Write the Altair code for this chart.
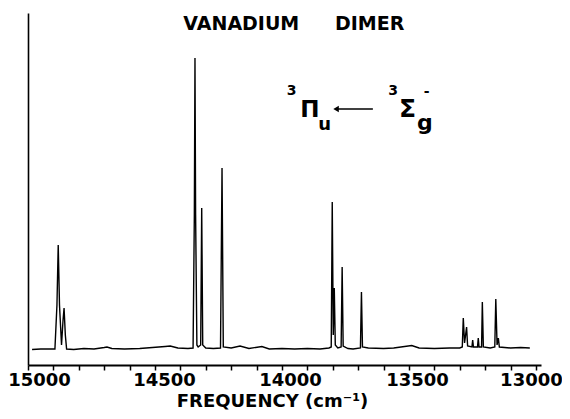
import altair as alt
import pandas as pd

# ---- spectrum (frequency in cm^-1, intensity in arbitrary units) ----
FREQ = [14984, 14950, 14920, 14900, 14894, 14886, 14881, 14876, 14868, 14862, 14858, 14853, 14848,
        14820, 14780, 14740, 14700, 14689, 14670, 14620, 14560, 14460, 14440, 14410, 14370,
        14350, 14345, 14342.5, 14340, 14335, 14330, 14320, 14316, 14312, 14300, 14270,
        14242, 14236, 14231, 14200, 14165, 14130, 14079, 14050, 14000, 13950, 13900, 13850, 13815,
        13806, 13802, 13798, 13794, 13790, 13780, 13767, 13763, 13759, 13740, 13720,
        13691, 13687, 13683, 13660, 13600, 13560, 13489, 13460, 13400, 13340, 13300,
        13290, 13286, 13281, 13273, 13269, 13252, 13249, 13246, 13230, 13227, 13224,
        13214, 13211, 13207, 13180, 13162, 13158, 13153, 13148, 13144, 13100, 13060, 13024]
INTENSITY = [15.5, 16, 16, 16, 16, 60, 120, 60, 20, 45, 57, 30, 16,
             15.5, 16.5, 16, 17.5, 18, 16.5, 16, 16.5, 18.5, 19, 17, 16.5,
             17, 150, 307, 150, 20, 18, 20, 157, 20, 17, 16.5,
             17, 197, 18, 17, 19, 16.5, 18.5, 16, 16.5, 16, 16.5, 16, 17,
             18, 163, 30, 77, 20, 17, 18, 98, 19, 16.5, 16,
             17, 73, 18, 17, 16.5, 17, 19.5, 17, 16.5, 17, 17,
             18, 47, 22, 38, 19, 18, 25, 18, 18, 27, 18,
             18, 63, 18, 17, 18, 66, 20, 27, 18, 17, 17.5, 17]

MAJOR_TICKS = [15000, 14500, 14000, 13500, 13000]
MINOR_TICKS = [14900, 14800, 14700, 14600, 14400, 14300, 14200, 14100,
               13900, 13800, 13700, 13600, 13400, 13300, 13200, 13100]

TITLE_WORDS = ["VANADIUM", "DIMER"]
TITLE_FREQ = [14160, 13655]
TITLE_INT = [335, 335]

ANN_TEXT = ["3", "Π", "u", "3", "Σ", "g", "-"]
ANN_FREQ = [13962, 13890, 13832, 13562, 13506, 13437, 13430]
ANN_INT = [270, 248, 235, 270, 248, 235, 269]
ANN_SIZE = [14, 23, 18, 14, 25, 22, 14]

ARROW_FREQ = [13787, 13642]
ARROW_INT = 256

FONT = "DejaVu Sans"

spec = pd.DataFrame({"freq": FREQ, "inten": INTENSITY, "order": range(len(FREQ))})
title_df = pd.DataFrame({"word": TITLE_WORDS, "freq": TITLE_FREQ, "inten": TITLE_INT})
ann_df = pd.DataFrame({"t": ANN_TEXT, "freq": ANN_FREQ, "inten": ANN_INT, "fs": ANN_SIZE})
arrow_df = pd.DataFrame({"freq": [ARROW_FREQ[0]], "freq2": [ARROW_FREQ[1]], "inten": [ARROW_INT]})
head_df = pd.DataFrame({"freq": [ARROW_FREQ[0]], "inten": [ARROW_INT]})

W, H = 513, 352
xscale = alt.Scale(domain=[15000, 12980], nice=False, zero=False)
yscale = alt.Scale(domain=[0, 352], nice=False, zero=False)

label_offset = {
    "condition": [
        {"test": "datum.value == 15000", "value": 11},
        {"test": "datum.value == 14500", "value": 9},
        {"test": "datum.value == 13000", "value": -5},
    ],
    "value": 8,
}

ALL_TICKS = sorted(MAJOR_TICKS + MINOR_TICKS, reverse=True)

xaxis = alt.Axis(
    values=ALL_TICKS, format="d", grid=False,
    labelExpr="datum.value % 500 === 0 ? datum.label : ''",
    ticks=True, tickSize=5, tickColor="black", tickWidth=1.5,
    labelFont=FONT, labelFontSize=18, labelFontWeight="bold", labelColor="black",
    labelPadding=1, labelFlush=False, labelOverlap=False, labelOffset=label_offset,
    domainColor="black", domainWidth=2,
    title="FREQUENCY  (cm⁻¹)", titleFont=FONT, titleFontSize=18, titleFontWeight="bold",
    titleColor="black", titlePadding=3, titleX=244,
)
yaxis = alt.Axis(labels=False, ticks=False, grid=False, title=None,
                 domainColor="black", domainWidth=1.6)

line = alt.Chart(spec).mark_line(color="black", strokeWidth=1.4).encode(
    x=alt.X("freq:Q", scale=xscale, axis=xaxis),
    y=alt.Y("inten:Q", scale=yscale, axis=yaxis),
    order="order:Q",
)

title_t = alt.Chart(title_df).mark_text(
    font=FONT, fontSize=19, fontWeight="bold", color="black", baseline="alphabetic", align="center"
).encode(x=alt.X("freq:Q", scale=xscale, axis=None), y=alt.Y("inten:Q", scale=yscale),
         text="word:N")

ann_t = alt.Chart(ann_df).mark_text(
    font=FONT, fontWeight="bold", color="black", baseline="alphabetic", align="center"
).encode(x=alt.X("freq:Q", scale=xscale, axis=None), y=alt.Y("inten:Q", scale=yscale),
         text="t:N", size=alt.Size("fs:Q", scale=None, legend=None))

arrow = alt.Chart(arrow_df).mark_rule(color="black", strokeWidth=1.6).encode(
    x=alt.X("freq:Q", scale=xscale, axis=None), x2="freq2:Q",
    y=alt.Y("inten:Q", scale=yscale))
head = alt.Chart(head_df).mark_point(shape="triangle-left", filled=True, color="black",
                                     size=40, opacity=1).encode(
    x=alt.X("freq:Q", scale=xscale, axis=None), y=alt.Y("inten:Q", scale=yscale))

chart = alt.layer(line, title_t, ann_t, arrow, head).resolve_axis(
    x="independent"
).properties(
    width=W, height=H,
    background="white",
    autosize=alt.AutoSizeParams(type="none"),
    padding={"left": 20, "top": 5, "right": 21, "bottom": 46},
).configure_view(strokeWidth=0)

chart.save("out.html", embed_options={"renderer": "svg", "actions": False})
